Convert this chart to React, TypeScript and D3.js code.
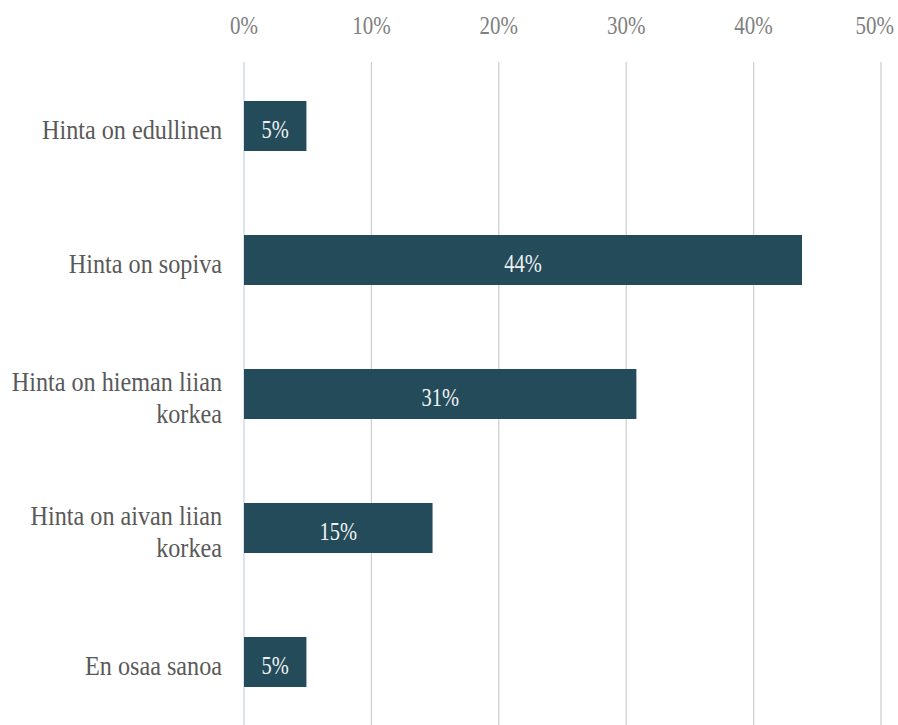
import React from "react";
import * as d3 from "d3";

const categories: string[][] = [
  ["Hinta on edullinen"],
  ["Hinta on sopiva"],
  ["Hinta on hieman liian", "korkea"],
  ["Hinta on aivan liian", "korkea"],
  ["En osaa sanoa"],
];
const values: number[] = [0.049, 0.438, 0.308, 0.148, 0.049];
const labels: string[] = ["5%", "44%", "31%", "15%", "5%"];
const ticks: number[] = [0, 0.1, 0.2, 0.3, 0.4, 0.5];

const W = 898;
const H = 725;
const FONT = '"Liberation Serif", "Times New Roman", serif';
const TICK_FS = 21;
const TICK_RIGHT_LIMIT = 894;

export default function App() {
  const x = d3.scaleLinear().domain([0, 0.5]).range([244, 881]);
  const y = d3
    .scaleBand<number>()
    .domain(d3.range(categories.length))
    .range([59, 729])
    .paddingInner(0.627)
    .paddingOuter(0.3135);
  const fmt = d3.format(".0%");
  const lineH = 32;

  // keep tick labels within the canvas (approximate half width of "50%")
  const halfTickW = (TICK_FS * 1.833) / 2;
  const tickX = (t: number) => Math.min(x(t), TICK_RIGHT_LIMIT - halfTickW);

  return (
    <svg
      width={W}
      height={H}
      style={{ position: "absolute", left: 0, top: 0, background: "#fff" }}
    >
      <g>
        {ticks.map((t) => (
          <line
            key={"g" + t}
            x1={x(t)}
            x2={x(t)}
            y1={62}
            y2={H}
            stroke={t === 0 ? "#c9d5e6" : "#d0d0d0"}
            strokeWidth={1.3}
          />
        ))}
      </g>
      <g>
        {ticks.map((t) => (
          <text
            key={"t" + t}
            transform={`translate(${tickX(t)},34) scale(1,1.2)`}
            textAnchor="middle"
            fill="#808080"
            style={{ fontFamily: FONT, fontSize: `${TICK_FS}px` }}
          >
            {fmt(t)}
          </text>
        ))}
      </g>
      <g>
        {values.map((v, i) => (
          <rect
            key={"b" + i}
            x={x(0)}
            y={y(i)!}
            width={x(v) - x(0)}
            height={y.bandwidth()}
            fill="#234b59"
          />
        ))}
      </g>
      <g>
        {values.map((v, i) => (
          <text
            key={"v" + i}
            transform={`translate(${(x(v) + x(0)) / 2},${y(i)! + y.bandwidth() / 2 + 11.5}) scale(1,1.25)`}
            textAnchor="middle"
            fill="#eef2f3"
            style={{ fontFamily: FONT, fontSize: "20.5px" }}
          >
            {labels[i]}
          </text>
        ))}
      </g>
      <g>
        {categories.map((lines, i) => {
          const cy = y(i)! + y.bandwidth() / 2;
          return lines.map((ln, j) => (
            <text
              key={"c" + i + "-" + j}
              transform={`translate(222,${cy + 12.5 + (j - (lines.length - 1) / 2) * lineH}) scale(1,1.17)`}
              textAnchor="end"
              fill="#595959"
              style={{ fontFamily: FONT, fontSize: "24.2px" }}
            >
              {ln}
            </text>
          ));
        })}
      </g>
    </svg>
  );
}
